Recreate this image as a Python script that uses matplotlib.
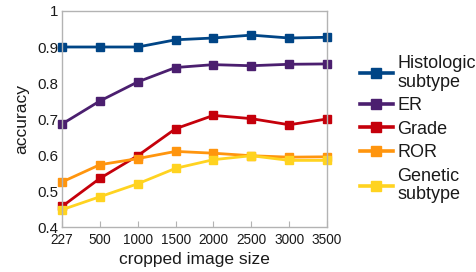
import matplotlib

matplotlib.use("Agg")
import matplotlib.pyplot as plt

plt.rcParams["font.family"] = ["Liberation Sans", "DejaVu Sans"]

# data
sizes = ["227", "500", "1000", "1500", "2000", "2500", "3000", "3500"]
histologic = [0.900, 0.900, 0.900, 0.920, 0.925, 0.933, 0.925, 0.927]
er = [0.686, 0.750, 0.803, 0.843, 0.851, 0.848, 0.852, 0.853]
grade = [0.457, 0.535, 0.598, 0.673, 0.710, 0.701, 0.684, 0.700]
ror = [0.525, 0.573, 0.590, 0.610, 0.605, 0.598, 0.594, 0.595]
genetic = [0.448, 0.484, 0.520, 0.563, 0.587, 0.598, 0.585, 0.585]

series = [
    ("Histologic\nsubtype", histologic, "#004586"),
    ("ER", er, "#4b1f6f"),
    ("Grade", grade, "#c5000b"),
    ("ROR", ror, "#ff950e"),
    ("Genetic\nsubtype", genetic, "#ffd320"),
]

FRAME = "#b3b3b3"
TEXT = "#1a1a1a"

fig = plt.figure(figsize=(4.77, 2.72), dpi=100)
ax = fig.add_axes([62 / 477, 1 - 227 / 272, (327 - 62) / 477, (227 - 11) / 272])

x = list(range(len(sizes)))
for name, vals, col in series:
    ax.plot(x, vals, color=col, linewidth=2.0, marker="s", markersize=5.5,
            label=name, solid_joinstyle="miter", clip_on=False)

ax.set_xlim(0, len(sizes) - 1)
ax.set_ylim(0.4, 1.0)
ax.set_xticks(x)
ax.set_xticklabels(sizes)
ax.set_yticks([0.4, 0.5, 0.6, 0.7, 0.8, 0.9, 1.0])
ax.set_yticklabels(["0.4", "0.5", "0.6", "0.7", "0.8", "0.9", "1"])
ax.tick_params(axis="x", direction="in", length=4, color=FRAME, labelsize=9.8, labelcolor=TEXT, pad=4)
ax.tick_params(axis="y", length=0, labelsize=10.8, labelcolor=TEXT, pad=2.5)
for spine in ax.spines.values():
    spine.set_color(FRAME)
    spine.set_linewidth(1.0)

ax.set_xlabel("cropped image size", fontsize=12.5, color=TEXT, labelpad=4)
ax.set_ylabel("accuracy", fontsize=12.5, color=TEXT, labelpad=6)

leg = ax.legend(loc="upper left", bbox_to_anchor=(360 / 477, 1 - 55 / 272),
                bbox_transform=fig.transFigure, frameon=False, fontsize=13,
                handlelength=1.8, handletextpad=0.25, labelspacing=0.36,
                borderaxespad=0, borderpad=0, markerscale=1.3)
for t in leg.get_texts():
    t.set_color(TEXT)
    t.set_linespacing(1.12)
for h in leg.legend_handles:
    h.set_linewidth(2.6)

plt.savefig("out.png", dpi=100)
plt.close(fig)
